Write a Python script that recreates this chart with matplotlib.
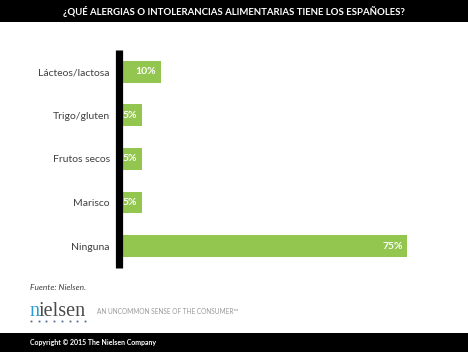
import matplotlib
matplotlib.use("Agg")
import matplotlib.pyplot as plt
import numpy as np
from matplotlib.lines import Line2D
from matplotlib.patches import Rectangle

categories = ["Lácteos/lactosa", "Trigo/gluten", "Frutos secos", "Marisco", "Ninguna"]
values = [10, 5, 5, 5, 75]
value_labels = ["10%", "5%", "5%", "5%", "75%"]
title = "¿QUÉ ALERGIAS O INTOLERANCIAS ALIMENTARIAS TIENE LOS ESPAÑOLES?"

W, H = 468, 352
fig = plt.figure(figsize=(W / 100, H / 100), dpi=100)
fig.patch.set_facecolor("white")

def fx(px):
    return px / W

def fy(py):
    return 1 - py / H

font = "Lato"
green = "#92c64e"

# title bar
fig.add_artist(Rectangle((0, fy(22)), 1, 22 / H, transform=fig.transFigure,
                         facecolor="black", edgecolor="none"))
fig.text(0.5, fy(11.5), title, ha="center", va="center", color="white",
         fontsize=6.9, fontweight="bold", family=font)

# bottom bar
fig.add_artist(Rectangle((0, 0), 1, 19 / H, transform=fig.transFigure,
                         facecolor="black", edgecolor="none"))
fig.text(fx(30), fy(342), "Copyright © 2015 The Nielsen Company", ha="left",
         va="center", color="white", fontsize=5, fontweight="bold", family=font)

# axes
ax = fig.add_axes([fx(123), fy(268), fx(407) - fx(123), (268 - 50) / H])
y = list(range(len(categories)))
ax.barh(y, values, height=0.5, color=green, edgecolor="none")
ax.set_xlim(0, 75)
ax.set_ylim(4.5, -0.5)
for s in ax.spines.values():
    s.set_visible(False)
ax.set_xticks([])
ax.set_yticks(y)
ax.set_yticklabels(categories, fontsize=7.5, color="#404040", family=font)
ax.tick_params(axis="y", length=0, pad=9.5)

for yi, v, lab in zip(y, values, value_labels):
    ax.annotate(lab, (v, yi), xytext=(-3.2, 0), textcoords="offset points",
                ha="right", va="center", color="white", fontsize=7.5,
                fontweight="bold", family=font)

# vertical axis line
fig.add_artist(Line2D([fx(119.5), fx(119.5)], [fy(50), fy(268)],
                      transform=fig.transFigure, color="black", lw=5.2,
                      solid_capstyle="butt"))

# footer
fig.text(fx(30), fy(288), "Fuente: Nielsen.", ha="left", va="center",
         color="#404040", fontsize=6, style="italic", family=font)
t_n = fig.text(fx(29), fy(316), "n", ha="left", va="baseline", color="#2a9bd6",
               fontsize=14.5, family="Liberation Serif")
fig.canvas.draw()
bb = t_n.get_window_extent()
fig.text(bb.x1 / W, fy(316), "ielsen", ha="left", va="baseline", color="#4a4a4a",
         fontsize=14.5, family="Liberation Serif")
dot_x = np.linspace(fx(31), fx(85), 8)
fig.add_artist(Line2D(dot_x, [fy(320.5)] * 8, transform=fig.transFigure,
                      linestyle="none", marker="s", markersize=1.3,
                      color="#4a6a8a", markeredgewidth=0))
fig.text(fx(97), fy(312), "AN UNCOMMON SENSE OF THE CONSUMER™", ha="left",
         va="center", color="#999999", fontsize=4.7, family=font)

fig.savefig("out.png", dpi=100)
